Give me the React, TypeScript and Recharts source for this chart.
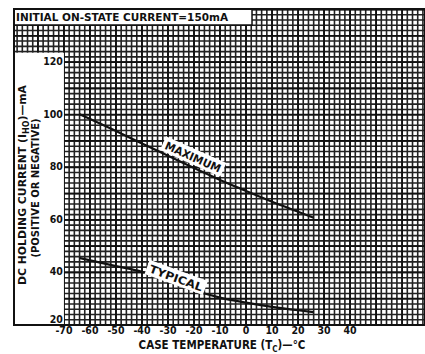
import { CartesianGrid, Line, LineChart, ReferenceArea, ReferenceDot, XAxis, YAxis } from "recharts";

// case temperature (°C) and holding current (mA)
const temps = [-64, -50, -40, -30, -20, -10, 0, 10, 20, 26];
const maximum = [100.2, 93.8, 89.0, 84.4, 79.7, 75.2, 71.0, 66.9, 63.1, 60.8];
const typical = [45.5, 42.4, 40.2, 36.8, 33.2, 30.4, 28.5, 26.9, 25.6, 24.9];

const xTicks = [-70, -60, -50, -40, -30, -20, -10, 0, 10, 20, 30, 40];
const yTicks = [20, 40, 60, 80, 100, 120];

const X_MIN = -89.2;
const X_MAX = 68.8;
const Y_MIN = 20;
const Y_MAX = 140.2;

const FONT = "'DejaVu Sans Condensed', 'DejaVu Sans', sans-serif";

const data = temps.map((t, i) => ({ t, max: maximum[i], typ: typical[i] }));

// graph paper: fine rule every 2 units, slightly heavier every 10
const fineX: number[] = [];
for (let v = -88; v <= 68; v += 2) fineX.push(v);
const fineY: number[] = [];
for (let v = 20; v <= 140; v += 2) fineY.push(v);
const majorX = fineX.filter((v) => v % 10 === 0);
const majorY = fineY.filter((v) => v % 10 === 0);

const XTick = ({ x, payload }: any) => (
    <text x={x} y={334} textAnchor="middle" fontFamily={FONT} fontWeight="bold" fontSize={10.5} fill="#111">
        {payload.value}
    </text>
);

const NoTick = () => <g />;

// y tick text drawn as a reference dot at the left edge of the paper so it sits above the blank strip
const yLabel = (v: number) => (props: any) => (
    <text x={props.cx - 1} y={props.cy} dy={v === 20 ? -2 : 3} textAnchor="end" fontFamily={FONT}
          fontWeight="bold" fontSize={10.5} fill="#111">
        {v}
    </text>
);

const curveLabel = (text: string, angle: number, w: number) => (props: any) => {
    const { cx, cy } = props;
    return (
        <g transform={`translate(${cx},${cy}) rotate(${angle})`}>
            <rect x={-w / 2 - 3} y={-8} width={w + 6} height={15} fill="#fff" />
            <text x={0} y={4} textAnchor="middle" fontFamily={FONT} fontWeight="bold" fontSize={11} fill="#111"
                  textLength={w} lengthAdjust="spacingAndGlyphs">
                {text}
            </text>
        </g>
    );
};

export default function App() {
    return (
        <div style={{ position: "absolute", left: 0, top: 0, background: "#fff" }}>
            <svg width={425} height={354} style={{ position: "absolute", left: 0, top: 0, pointerEvents: "none", zIndex: 2 }}>
                <text x={16} y={21} fontFamily={FONT} fontWeight="bold" fontSize={11} fill="#111"
                      textLength={212} lengthAdjust="spacingAndGlyphs">
                    INITIAL ON-STATE CURRENT=150mA
                </text>
                <text transform="translate(26,185) rotate(-90)" textAnchor="middle" fontFamily={FONT} fontWeight="bold"
                      fontSize={11} fill="#111" textLength={200} lengthAdjust="spacingAndGlyphs">
                    DC HOLDING CURRENT (I<tspan fontSize={8} dy={3}>HO</tspan><tspan dy={-3}>)—mA</tspan>
                </text>
                <text transform="translate(39,188) rotate(-90)" textAnchor="middle" fontFamily={FONT} fontWeight="bold"
                      fontSize={10} fill="#111" textLength={139} lengthAdjust="spacingAndGlyphs">
                    (POSITIVE OR NEGATIVE)
                </text>
                <text x={222} y={349} textAnchor="middle" fontFamily={FONT} fontWeight="bold" fontSize={11.5} fill="#111">
                    CASE TEMPERATURE (T<tspan fontSize={8} dy={3}>C</tspan><tspan dy={-3}>)—°C</tspan>
                </text>
            </svg>
            <LineChart width={425} height={354} data={data} margin={{ top: 9, right: 0, bottom: 0, left: 14 }}>
                <XAxis dataKey="t" type="number" domain={[X_MIN, X_MAX]} ticks={xTicks} allowDataOverflow
                       axisLine={false} tickLine={false} height={29} tick={<XTick />} interval={0} />
                <YAxis type="number" domain={[Y_MIN, Y_MAX]} ticks={yTicks} allowDataOverflow
                       axisLine={false} tickLine={false} width={0} tick={<NoTick />} interval={0} />
                <CartesianGrid verticalValues={fineX} horizontalValues={fineY} stroke="#222" strokeWidth={1.6} />
                <CartesianGrid verticalValues={majorX} horizontalValues={majorY} stroke="#111" strokeWidth={1.8} />
                {/* blank strip beside the y axis and the title box */}
                <ReferenceArea x1={X_MIN} x2={-70} y1={Y_MIN} y2={123.6} fill="#fff" fillOpacity={1} stroke="none" ifOverflow="visible" />
                <ReferenceArea x1={X_MIN} x2={2.3} y1={134.1} y2={Y_MAX} fill="#fff" fillOpacity={1} stroke="#111" strokeWidth={1.5} ifOverflow="visible" />
                <ReferenceArea x1={X_MIN} x2={X_MAX} y1={Y_MIN} y2={Y_MAX} fill="none" stroke="#111" strokeWidth={2} ifOverflow="visible" />
                <Line type="monotone" dataKey="max" stroke="#111" strokeWidth={2.2} dot={false} isAnimationActive={false} />
                <Line type="monotone" dataKey="typ" stroke="#111" strokeWidth={2.2} dot={false} isAnimationActive={false} />
                <ReferenceDot x={-20.4} y={83.9} r={0} ifOverflow="visible" shape={curveLabel("MAXIMUM", 24, 60)} />
                <ReferenceDot x={-26.9} y={37.9} r={0} ifOverflow="visible" shape={curveLabel("TYPICAL", 20, 56)} />
                {yTicks.map((v) => (
                    <ReferenceDot key={v} x={-70} y={v} r={0} ifOverflow="visible" shape={yLabel(v)} />
                ))}
            </LineChart>
        </div>
    );
}
